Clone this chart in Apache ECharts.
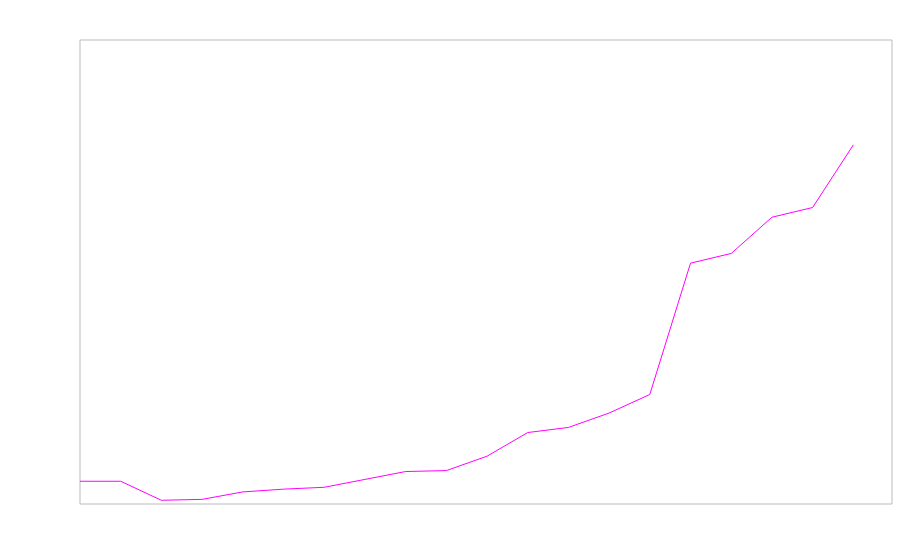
<!DOCTYPE html>
<html>
<head>
<meta charset="utf-8">
<script src="https://cdn.jsdelivr.net/npm/echarts@6/dist/echarts.min.js"></script>
<style>
  html, body { margin: 0; padding: 0; background: #fff; }
  #chart { width: 900px; height: 560px; }
</style>
</head>
<body>
<div id="chart"></div>
<script>
  // x positions (index steps) and values
  var xValues = [0, 1, 2, 3, 4, 5, 6, 7, 8, 9, 10, 11, 12, 13, 14, 15, 16, 17, 18, 19]
  var yValues = [4.9, 4.9, 0.8, 1.0, 2.6, 3.2, 3.6, 5.3, 7.0, 7.2, 10.3, 15.4, 16.5, 19.6, 23.6, 51.9, 54.0, 61.8, 63.9, 77.4]

  var points = xValues.map(function (x, i) { return [x, yValues[i]] })

  var chart = echarts.init(document.getElementById('chart'))
  chart.setOption({
    animation: false,
    backgroundColor: '#fff',
    grid: {
      left: 80,
      top: 40,
      right: 8,
      bottom: 56,
      show: true,
      borderColor: '#bbbbbb',
      borderWidth: 1,
      backgroundColor: 'transparent'
    },
    xAxis: {
      type: 'value',
      min: 0,
      max: 19.95,
      show: false,
      splitLine: { show: false }
    },
    yAxis: {
      type: 'value',
      min: 0,
      max: 100,
      show: false,
      splitLine: { show: false }
    },
    series: [{
      type: 'line',
      data: points,
      showSymbol: false,
      symbol: 'none',
      lineStyle: { color: '#ff00ff', width: 1 },
      itemStyle: { color: '#ff00ff' }
    }]
  })
</script>
</body>
</html>
